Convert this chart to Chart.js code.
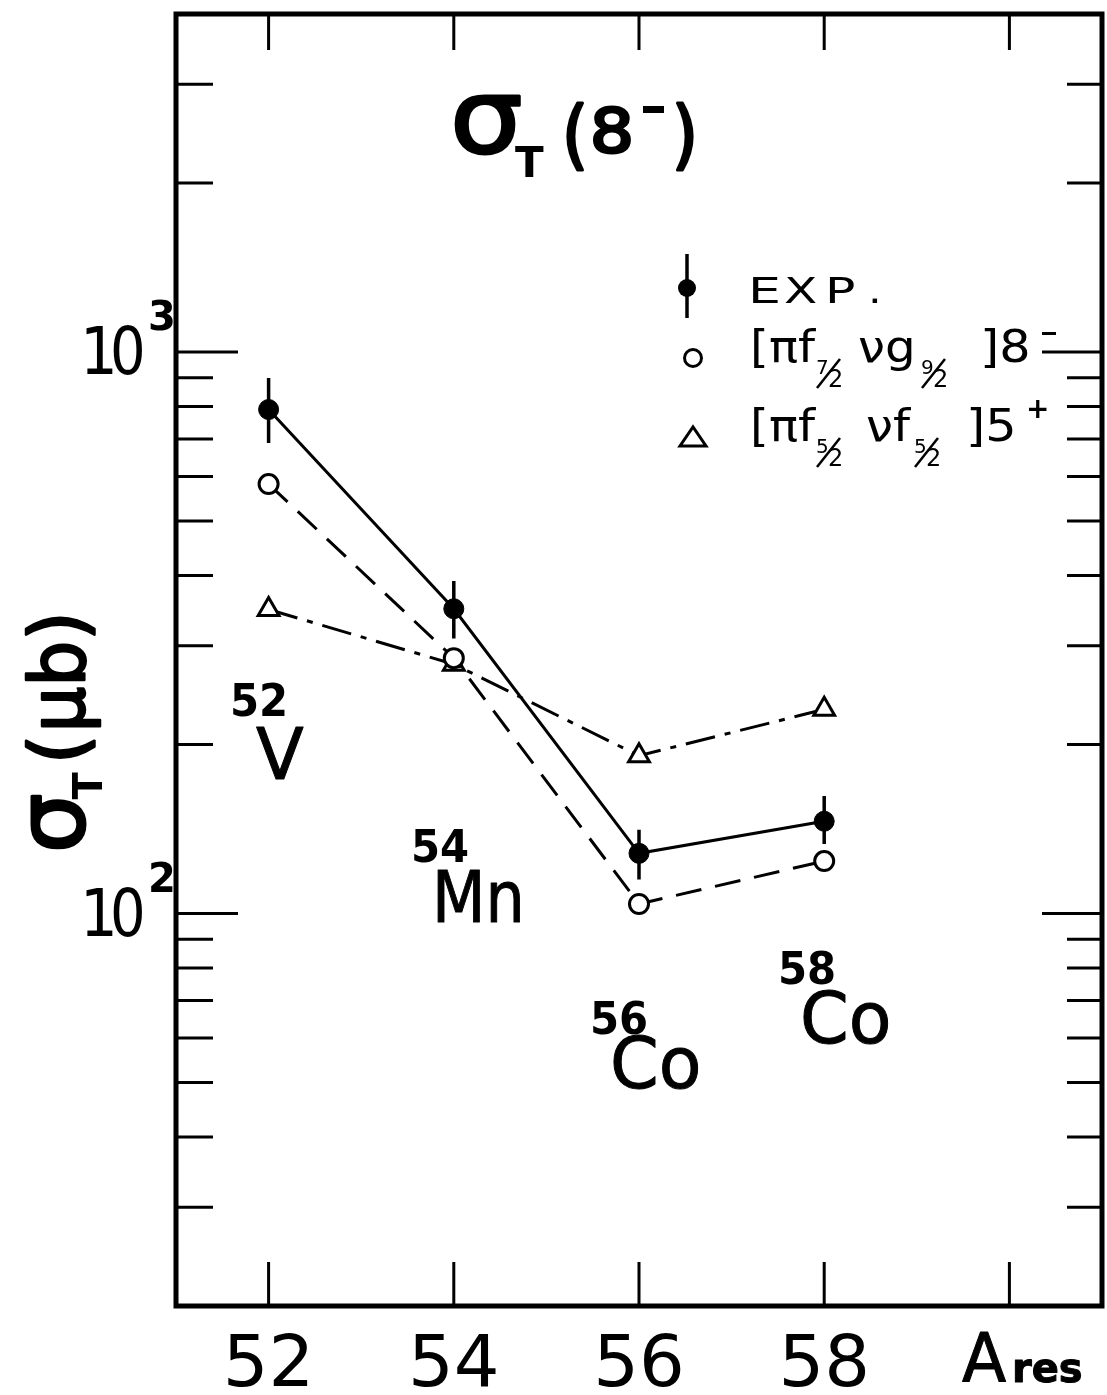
<!DOCTYPE html>
<html>
<head>
<meta charset="utf-8">
<script src="https://cdn.jsdelivr.net/npm/chart.js@4.4.0/dist/chart.umd.min.js"></script>
<style>
  html, body { margin: 0; padding: 0; background: #fff; }
  #wrap { width: 1107px; height: 1395px; }
</style>
</head>
<body>
<div id="wrap"><canvas id="myChart" width="1107" height="1395"></canvas></div>
<script>
/*////////////////////////////////// DATA //////////////////////////////////*/
// mass number A of the residual nucleus
const massNumbers = [52, 54, 56, 58];
// measured sigma_T (micro barn) and its error bar
const expValues = [790, 349, 128, 146];
const expLow = [689, 309, 115, 133];
const expHigh = [899, 391, 141, 162];
// calculation [pi f7/2 nu g9/2] 8-
const calc8Values = [582, 285, 104, 124];
// calculation [pi f5/2 nu f5/2] 5+
const calc5Values = [348, 278, 191, 231];
// axis ticks
const xTicks = [52, 54, 56, 58, 60];
const xTickLabels = ['52', '54', '56', '58'];
const yMajorTicks = [100, 1000];
const yMajorLabels = ['2', '3'];
const yMinorTicks = [30, 40, 50, 60, 70, 80, 90, 200, 300, 400, 500, 600, 700, 800, 900, 2000, 3000];
// nucleus labels
const nuclei = [['52', 'V'], ['54', 'Mn'], ['56', 'Co'], ['58', 'Co']];

const FONT = '"DejaVu Sans"';

/*////////////////////////////////// HELPERS //////////////////////////////////*/
function setFont(ctx, size, bold) {
    ctx.font = (bold ? 'bold ' : '') + size + 'px ' + FONT;
}

// text with an optional horizontal stretch and extra outline weight, returns its width
function txt(ctx, t, x, y, size, bold, sx, heavy) {
    sx = sx || 1;
    setFont(ctx, size, bold);
    ctx.save();
    ctx.translate(x, y);
    ctx.scale(sx, 1);
    ctx.fillText(t, 0, 0);
    if (heavy) {
        ctx.lineWidth = heavy;
        ctx.lineJoin = 'round';
        ctx.strokeText(t, 0, 0);
    }
    ctx.restore();
    return ctx.measureText(t).width * sx;
}

// small slanted fraction like 7/2 hanging under the baseline
function drawFrac(ctx, x, y, num, den) {
    setFont(ctx, 20);
    ctx.fillText(num, x, y + 12);
    setFont(ctx, 24);
    ctx.fillText(den, x + 12, y + 25);
    ctx.beginPath();
    ctx.lineWidth = 2.5;
    ctx.moveTo(x + 1, y + 26);
    ctx.lineTo(x + 24, y - 3);
    ctx.stroke();
}

// draw a list of text runs one after another (used rotated for the y title)
function drawRuns(ctx, runs, x, y) {
    let cx = x;
    runs.forEach(r => {
        cx += txt(ctx, r.t, cx, y + (r.dy || 0), r.size, r.bold, r.sx, r.heavy) + (r.gap || 0);
    });
    return cx;
}

/*////////////////////////////////// PLUGINS //////////////////////////////////*/
const errorBars = {
    id: 'errorBars',
    afterDatasetsDraw(chart) {
        const {ctx, scales: {x, y}} = chart;
        ctx.save();
        ctx.strokeStyle = '#000';
        ctx.lineWidth = 3.5;
        ctx.beginPath();
        for (let i = 0; i < massNumbers.length; i++) {
            const px = x.getPixelForValue(massNumbers[i]);
            ctx.moveTo(px, y.getPixelForValue(expLow[i]));
            ctx.lineTo(px, y.getPixelForValue(expHigh[i]));
        }
        ctx.stroke();
        ctx.restore();
    }
};

const frameAndTicks = {
    id: 'frameAndTicks',
    afterDraw(chart) {
        const {ctx, chartArea: a, scales: {x, y}} = chart;
        ctx.save();
        ctx.strokeStyle = '#000';
        ctx.fillStyle = '#000';
        ctx.lineWidth = 3;
        ctx.beginPath();
        xTicks.forEach(v => {
            const px = x.getPixelForValue(v);
            ctx.moveTo(px, a.top); ctx.lineTo(px, a.top + 36);
            ctx.moveTo(px, a.bottom); ctx.lineTo(px, a.bottom - 44);
        });
        yMinorTicks.forEach(v => {
            const py = y.getPixelForValue(v);
            ctx.moveTo(a.left, py); ctx.lineTo(a.left + 37, py);
            ctx.moveTo(a.right, py); ctx.lineTo(a.right - 35, py);
        });
        yMajorTicks.forEach(v => {
            const py = y.getPixelForValue(v);
            ctx.moveTo(a.left, py); ctx.lineTo(a.left + 62, py);
            ctx.moveTo(a.right, py); ctx.lineTo(a.right - 60, py);
        });
        ctx.stroke();
        ctx.lineWidth = 5;
        ctx.strokeRect(a.left, a.top, a.right - a.left, a.bottom - a.top);

        // x tick labels
        ctx.textAlign = 'center';
        ctx.textBaseline = 'alphabetic';
        setFont(ctx, 72);
        xTickLabels.forEach(t => {
            ctx.fillText(t, x.getPixelForValue(Number(t)), a.bottom + 80);
        });
        ctx.textAlign = 'left';
        txt(ctx, 'A', 962, a.bottom + 76, 68, false, 0.95, 1);
        txt(ctx, 'res', 1012, a.bottom + 76, 40, true, 1.0, 1);

        // y tick labels 10^2, 10^3
        yMajorTicks.forEach((v, i) => {
            const py = y.getPixelForValue(v);
            txt(ctx, '1', 80, py + 22, 66, false, 0.9);
            txt(ctx, '0', 110, py + 22, 66, false, 0.85);
            txt(ctx, yMajorLabels[i], 148, py - 22, 40, true);
        });
        ctx.restore();
    }
};

const annotations = {
    id: 'annotations',
    afterDraw(chart) {
        const ctx = chart.ctx;
        ctx.save();
        ctx.fillStyle = '#000';
        ctx.strokeStyle = '#000';
        ctx.textAlign = 'left';
        ctx.textBaseline = 'alphabetic';

        // title
        txt(ctx, 'σ', 450, 153, 104, false, 1.1, 3);
        txt(ctx, 'T', 515, 177, 42, true);
        txt(ctx, '(', 562, 160, 74, false, 0.9, 3);
        txt(ctx, '8', 590, 152, 60, false, 1.15, 3);
        ctx.fillRect(643, 106, 21, 7);
        txt(ctx, ')', 672, 160, 74, false, 0.9, 3);

        // y axis title
        ctx.save();
        ctx.translate(84, 853);
        ctx.rotate(-Math.PI / 2);
        drawRuns(ctx, [
            {t: 'σ', size: 94, gap: -6, heavy: 3},
            {t: 'T', size: 40, dy: 18, bold: true, gap: 8},
            {t: '(', size: 76, gap: 2, heavy: 2.5},
            {t: 'μ', size: 76, sx: 0.95, heavy: 2.5},
            {t: 'b', size: 76, sx: 0.95, heavy: 2.5},
            {t: ')', size: 76, heavy: 2.5}
        ], 0, 0);
        ctx.restore();

        // nucleus labels
        const pos = [[230, 716, 256, 779], [411, 862, 432, 922], [590, 1034, 610, 1088], [778, 984, 800, 1043]];
        nuclei.forEach((n, i) => {
            const p = pos[i];
            txt(ctx, n[0], p[0], p[1], 44, true, 0.95);
            txt(ctx, n[1], p[2], p[3], 72, false, n[1] === 'Mn' ? 0.86 : 0.97, 1);
        });

        // legend symbols
        ctx.lineWidth = 3.5;
        ctx.beginPath();
        ctx.moveTo(687, 254); ctx.lineTo(687, 318);
        ctx.stroke();
        ctx.beginPath();
        ctx.arc(687, 288, 9, 0, Math.PI * 2);
        ctx.fill();
        ctx.lineWidth = 3;
        ctx.beginPath();
        ctx.arc(693, 358, 8.5, 0, Math.PI * 2);
        ctx.stroke();
        ctx.beginPath();
        ctx.moveTo(680, 446); ctx.lineTo(706, 446); ctx.lineTo(693, 427); ctx.closePath();
        ctx.stroke();

        // legend texts
        txt(ctx, 'E', 748, 303, 36, false, 1.45);
        txt(ctx, 'X', 784, 303, 36, false, 1.35);
        txt(ctx, 'P', 825, 303, 36, false, 1.4);
        txt(ctx, '.', 868, 303, 36, false, 1.2);

        txt(ctx, '[πf', 750, 362, 44, false, 1.1);
        drawFrac(ctx, 816, 362, '7', '2');
        txt(ctx, 'νg', 858, 362, 44, false, 1.1);
        drawFrac(ctx, 921, 362, '9', '2');
        txt(ctx, ']8', 980, 362, 44, false, 1.12);
        ctx.fillRect(1042, 332, 14, 3);

        txt(ctx, '[πf', 750, 441, 44, false, 1.1);
        drawFrac(ctx, 816, 441, '5', '2');
        txt(ctx, 'νf', 866, 441, 44, false, 1.1);
        drawFrac(ctx, 914, 441, '5', '2');
        txt(ctx, ']5', 966, 441, 44, false, 1.12);
        txt(ctx, '+', 1026, 418, 28, true);
        ctx.restore();
    }
};

/*////////////////////////////////// CHART //////////////////////////////////*/
const toPoints = vals => massNumbers.map((a, i) => ({x: a, y: vals[i]}));

const ctx = document.getElementById('myChart').getContext('2d');
const myChart = new Chart(ctx, {
    type: 'line',
    data: {
        datasets: [{
            label: 'EXP.',
            data: toPoints(expValues),
            borderColor: '#000',
            borderWidth: 3,
            pointStyle: 'circle',
            pointRadius: 10,
            pointBackgroundColor: '#000',
            pointBorderColor: '#000',
            pointBorderWidth: 1
        }, {
            label: '[πf7/2 νg9/2]8-',
            data: toPoints(calc8Values),
            borderColor: '#000',
            borderWidth: 3,
            borderDash: [26, 14],
            pointStyle: 'circle',
            pointRadius: 9.5,
            pointBackgroundColor: '#fff',
            pointBorderColor: '#000',
            pointBorderWidth: 3
        }, {
            label: '[πf5/2 νf5/2]5+',
            data: toPoints(calc5Values),
            borderColor: '#000',
            borderWidth: 3,
            borderDash: [30, 10, 6, 10],
            pointStyle: 'triangle',
            pointRadius: 12,
            pointBackgroundColor: '#fff',
            pointBorderColor: '#000',
            pointBorderWidth: 3
        }]
    },
    options: {
        responsive: false,
        animation: false,
        layout: {autoPadding: false, padding: {left: 176, right: 5, top: 14, bottom: 89}},
        scales: {
            x: {type: 'linear', min: 51, max: 61, display: false},
            y: {type: 'logarithmic', min: 20, max: 4000, display: false}
        },
        plugins: {
            legend: {display: false},
            tooltip: {enabled: false}
        }
    },
    plugins: [errorBars, frameAndTicks, annotations]
});
</script>
</body>
</html>
